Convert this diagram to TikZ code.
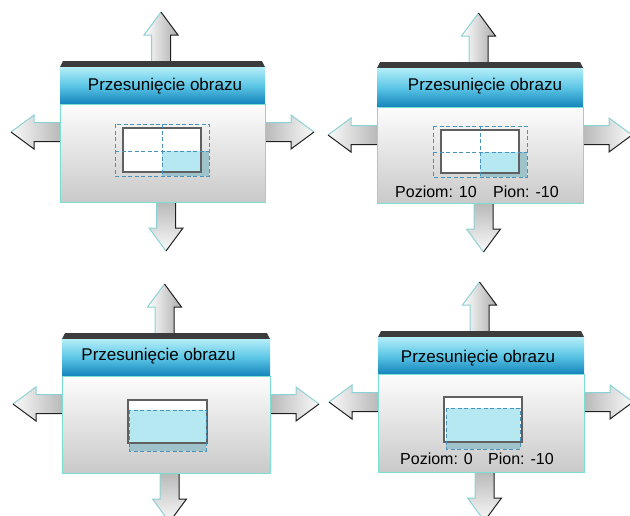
\documentclass[tikz,border=0pt]{standalone}
\usepackage{fontspec}
\setmainfont{Liberation Sans}
\usepackage{xcolor}

\definecolor{bardark}{HTML}{3C3C3C}
\definecolor{headtop}{HTML}{B4EEF8}
\definecolor{headmid}{HTML}{5CC6E6}
\definecolor{headbot}{HTML}{1484BC}
\definecolor{bodyedge}{HTML}{7ADFD2}
\definecolor{arrowedge}{HTML}{8CD2D4}
\definecolor{arrowdark}{HTML}{202020}
\definecolor{shiftfill}{HTML}{B6E8F2}
\definecolor{outfill}{HTML}{9FC3CB}
\definecolor{dashblue}{HTML}{4A92BA}
\definecolor{screenedge}{HTML}{606060}

\newcommand{\movearrow}[3]{%
  \begin{scope}[shift={#1},#2]
    \shade[#3] (-9.5,0) -- (-9.5,-26) -- (-17,-26) -- (0,-49) -- (17,-26) -- (9.5,-26) -- (9.5,0) -- cycle;
    \draw[arrowedge, line width=1pt, line join=miter] (-9.5,0) -- (-9.5,-26) -- (-17,-26) -- (0,-49);
    \draw[arrowdark, line width=1pt, line join=miter] (0,-49) -- (17,-26) -- (9.5,-26) -- (9.5,0);
  \end{scope}}

\newcommand{\panelframe}[5]{%
  \movearrow{({(#1+#2)/2-1.5},#3)}{}{left color=white, right color=gray!65}
  \movearrow{({(#1+#2)/2+3.5},#5)}{yscale=-1}{top color=gray!55, bottom color=gray!4}
  \movearrow{(#1,{#4+28})}{rotate=90,xscale=-1}{left color=gray!4, right color=gray!55}
  \movearrow{(#2,{#4+28})}{rotate=-90}{left color=gray!55, right color=gray!4}
  \fill[bardark] (#1,{#3+6}) -- ({#1+3},#3) -- ({#2-3},#3) -- (#2,{#3+6}) -- cycle;
  \shade[top color=headtop, bottom color=headbot, middle color=headmid] (#1,{#3+6}) rectangle (#2,#4);
  \shade[top color=gray!2, bottom color=gray!42] (#1,#4) rectangle (#2,#5);
  \draw[bodyedge, line width=1pt] (#1,#4) rectangle (#2,#5);
}

\begin{document}
\begin{tikzpicture}[
  x=1pt, y=-1pt,
  screen/.style={draw=screenedge, line width=1.4pt},
  frame/.style={draw=dashblue, line width=1pt, dash pattern=on 4pt off 2.5pt},
  title/.style={anchor=base, inner sep=0pt, font=\fontsize{17}{20}\selectfont},
  value/.style={anchor=base west, inner sep=0pt, font=\fontsize{16}{19}\selectfont}
]
\useasboundingbox (0,0) rectangle (630,515);
\clip (0,0) rectangle (630,515);
\fill[white] (0,0) rectangle (630,515);

\panelframe{60}{265}{61}{104}{202}
\panelframe{377}{583}{62}{107}{203}
\panelframe{62}{270}{333}{376}{473}
\panelframe{378}{584}{331}{374}{472}

\node[title] (title1) at (165,90)   {Przesunięcie obrazu};
\node[title] (title2) at (485,90)   {Przesunięcie obrazu};
\node[title] (title3) at (158.5,360) {Przesunięcie obrazu};
\node[title] (title4) at (478,362)  {Przesunięcie obrazu};

\fill[white] (123,128) rectangle (201,172);
\fill[outfill] (162,151) rectangle (209,176);
\fill[shiftfill] (162,151) rectangle (201,172);
\draw[screen] (123,128) rectangle (201,172);
\draw[frame] (115,124) rectangle (209,176);
\draw[frame] (162,124) -- (162,176);
\draw[frame] (115,151) -- (209,151);

\fill[white] (441,130) rectangle (519,173);
\fill[outfill] (480,152) rectangle (527,177);
\fill[shiftfill] (480,152) rectangle (519,173);
\draw[screen] (441,130) rectangle (519,173);
\draw[frame] (433,126) rectangle (527,177);
\draw[frame] (480,126) -- (480,177);
\draw[frame] (433,152) -- (527,152);
\node[value] (pz2) at (395,197) {Poziom: 10};
\node[value] (pn2) at (493,197) {Pion: -10};

\fill[white] (128,400) rectangle (207,443);
\fill[outfill] (129,410) rectangle (206,451);
\fill[shiftfill] (129,410) rectangle (206,443);
\draw[screen] (128,400) rectangle (207,443);
\draw[frame] (129,410) rectangle (206,451);

\fill[white] (444,397) rectangle (522,442);
\fill[outfill] (446,408) rectangle (520,449);
\fill[shiftfill] (446,408) rectangle (520,442);
\draw[screen] (444,397) rectangle (522,442);
\draw[frame] (446,408) rectangle (520,449);
\node[value] (pz4) at (400,464) {Poziom: 0};
\node[value] (pn4) at (488,464) {Pion: -10};
\end{tikzpicture}
\end{document}
